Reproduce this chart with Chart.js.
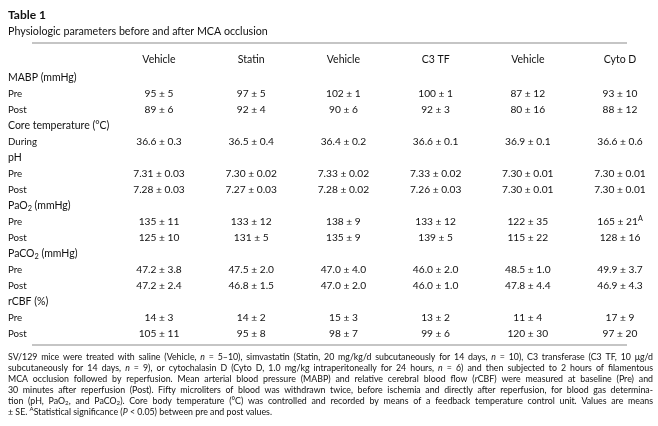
<!DOCTYPE html>
<html>
<head>
<meta charset="utf-8">
<script src="https://cdn.jsdelivr.net/npm/chart.js@4"></script>
<style>
  html, body { margin: 0; padding: 0; background: #fff; }
  #wrap { width: 658px; height: 426px; }
</style>
</head>
<body>
<div id="wrap"><canvas id="tableChart" width="658" height="426"></canvas></div>
<script>
// column headings and row labels (_ = subscript next char)
const columns = ["Vehicle", "Statin", "Vehicle", "C3 TF", "Vehicle", "Cyto D"];
const rowLabels = ["MABP (mmHg)", "Pre", "Post", "Core temperature (°C)", "During", "pH", "Pre", "Post",
  "PaO_2 (mmHg)", "Pre", "Post", "PaCO_2 (mmHg)", "Pre", "Post", "rCBF (%)", "Pre", "Post"];
const groupRows = [0, 3, 5, 8, 11, 14];

// means and SE per treatment column
const mabpPreMean = [95, 97, 102, 100, 87, 93];
const mabpPreSE = [5, 5, 1, 1, 12, 10];
const mabpPostMean = [89, 92, 90, 92, 80, 88];
const mabpPostSE = [6, 4, 6, 3, 16, 12];
const tempMean = [36.6, 36.5, 36.4, 36.6, 36.9, 36.6];
const tempSE = [0.3, 0.4, 0.2, 0.1, 0.1, 0.6];
const phPreMean = [7.31, 7.30, 7.33, 7.33, 7.30, 7.30];
const phPreSE = [0.03, 0.02, 0.02, 0.02, 0.01, 0.01];
const phPostMean = [7.28, 7.27, 7.28, 7.26, 7.30, 7.30];
const phPostSE = [0.03, 0.03, 0.02, 0.03, 0.01, 0.01];
const pao2PreMean = [135, 133, 138, 133, 122, 165];
const pao2PreSE = [11, 12, 9, 12, 35, 21];
const pao2PostMean = [125, 131, 135, 139, 115, 128];
const pao2PostSE = [10, 5, 9, 5, 22, 16];
const paco2PreMean = [47.2, 47.5, 47.0, 46.0, 48.5, 49.9];
const paco2PreSE = [3.8, 2.0, 4.0, 2.0, 1.0, 3.7];
const paco2PostMean = [47.2, 46.8, 47.0, 46.0, 47.8, 46.9];
const paco2PostSE = [2.4, 1.5, 2.0, 1.0, 4.4, 4.3];
const rcbfPreMean = [14, 14, 15, 13, 11, 17];
const rcbfPreSE = [3, 2, 3, 2, 4, 9];
const rcbfPostMean = [105, 95, 98, 99, 120, 97];
const rcbfPostSE = [11, 8, 7, 6, 30, 20];
const pao2PreSig = [false, false, false, false, false, true];

const footnote = [
  "SV/129 mice were treated with saline (Vehicle, *n* = 5–10), simvastatin (Statin, 20 mg/kg/d subcutaneously for 14 days, *n* = 10), C3 transferase (C3 TF, 10 μg/d",
  "subcutaneously for 14 days, *n* = 9), or cytochalasin D (Cyto D, 1.0 mg/kg intraperitoneally for 24 hours, *n* = 6) and then subjected to 2 hours of filamentous",
  "MCA occlusion followed by reperfusion. Mean arterial blood pressure (MABP) and relative cerebral blood flow (*r*CBF) were measured at baseline (Pre) and",
  "30 minutes after reperfusion (Post). Fifty microliters of blood was withdrawn twice, before ischemia and directly after reperfusion, for blood gas determina-",
  "tion (pH, PaO_2, and PaCO_2). Core body temperature (°C) was controlled and recorded by means of a feedback temperature control unit. Values are means",
  "± SE. ^AStatistical significance (*P* < 0.05) between pre and post values."
];

const tableRows = [
  { row: 1, mean: mabpPreMean, se: mabpPreSE, dp: 0 },
  { row: 2, mean: mabpPostMean, se: mabpPostSE, dp: 0 },
  { row: 4, mean: tempMean, se: tempSE, dp: 1 },
  { row: 6, mean: phPreMean, se: phPreSE, dp: 2 },
  { row: 7, mean: phPostMean, se: phPostSE, dp: 2 },
  { row: 9, mean: pao2PreMean, se: pao2PreSE, dp: 0, sig: pao2PreSig },
  { row: 10, mean: pao2PostMean, se: pao2PostSE, dp: 0 },
  { row: 12, mean: paco2PreMean, se: paco2PreSE, dp: 1 },
  { row: 13, mean: paco2PostMean, se: paco2PostSE, dp: 1 },
  { row: 15, mean: rcbfPreMean, se: rcbfPreSE, dp: 0 },
  { row: 16, mean: rcbfPostMean, se: rcbfPostSE, dp: 0 }
];

const FONT = "Lato, 'Open Sans', sans-serif";
const INK = "#111111";

// split "*x*" italics, "_x" subscript, "^x" superscript into runs
function parseRich(str) {
  const out = [];
  let italic = false, buf = "";
  const flush = () => { if (buf) out.push({ t: buf, italic, mode: 0 }); buf = ""; };
  for (let i = 0; i < str.length; i++) {
    const c = str[i];
    if (c === "*") { flush(); italic = !italic; }
    else if (c === "_" || c === "^") {
      flush();
      out.push({ t: str[i + 1], italic, mode: c === "_" ? 1 : -1 });
      i++;
    } else buf += c;
  }
  flush();
  return out;
}

function runFont(r, size, weight) {
  const s = r.mode ? size * 0.7 : size;
  return (r.italic ? "italic " : "") + (weight || "normal") + " " + s + "px " + FONT;
}

function richWidth(ctx, runs, size, weight) {
  let w = 0;
  runs.forEach(r => { ctx.font = runFont(r, size, weight); w += ctx.measureText(r.t).width; });
  return w;
}

function drawRich(ctx, str, x, y, size, opts) {
  opts = opts || {};
  const runs = parseRich(str);
  const natural = richWidth(ctx, runs, size, opts.weight);
  let extra = 0;
  if (opts.justify) {
    const spaces = runs.reduce((n, r) => n + (r.t.split(" ").length - 1), 0);
    if (spaces) extra = (opts.justify - natural) / spaces;
  }
  let cx = opts.align === "center" ? x - natural / 2 : x;
  ctx.textAlign = "left";
  ctx.textBaseline = "middle";
  runs.forEach(r => {
    ctx.font = runFont(r, size, opts.weight);
    const dy = r.mode === 1 ? size * 0.25 : r.mode === -1 ? -size * 0.3 : 0;
    const parts = r.t.split(" ");
    parts.forEach((p, k) => {
      if (k > 0) cx += ctx.measureText(" ").width + extra;
      ctx.fillText(p, cx, y + dy);
      cx += ctx.measureText(p).width;
    });
  });
}

const tablePlugin = {
  id: "tableText",
  afterDatasetsDraw(chart) {
    const ctx = chart.ctx;
    const xs = chart.scales.x, ys = chart.scales.y;
    ctx.save();
    ctx.fillStyle = INK;

    drawRich(ctx, "Table 1", 8, ys.top - 63, 12, { weight: "bold" });
    drawRich(ctx, "Physiologic parameters before and after MCA occlusion", 8, ys.top - 46, 10.7);

    ctx.strokeStyle = "#8c8c8c";
    ctx.lineWidth = 1.2;
    [ys.top - 35, ys.bottom + 11].forEach(y => {
      ctx.beginPath();
      ctx.moveTo(32, y);
      ctx.lineTo(627, y);
      ctx.stroke();
    });

    columns.forEach((c, i) => {
      drawRich(ctx, c, xs.getPixelForValue(i), ys.top - 18, 10.5, { align: "center" });
    });

    rowLabels.forEach((lab, r) => {
      const group = groupRows.includes(r);
      drawRich(ctx, lab, 8, ys.getPixelForValue(r), group ? 10.5 : 9.7);
    });

    chart.data.datasets.forEach((ds, d) => {
      const meta = chart.getDatasetMeta(d);
      meta.data.forEach((pt, i) => {
        let txt = ds.mean[i].toFixed(ds.dp) + " ± " + ds.se[i].toFixed(ds.dp);
        if (ds.sig && ds.sig[i]) txt += "^A";
        drawRich(ctx, txt, pt.x, pt.y, 10.2, { align: "center" });
      });
    });

    footnote.forEach((line, k) => {
      const last = k === footnote.length - 1;
      drawRich(ctx, line, 8, ys.bottom + 23 + k * 11, 8.8, { justify: last ? 0 : 645 });
    });
    ctx.restore();
  }
};

new Chart(document.getElementById("tableChart"), {
  type: "scatter",
  data: {
    datasets: tableRows.map(r => ({
      label: rowLabels[r.row],
      data: r.mean.map((m, i) => ({ x: i, y: r.row })),
      mean: r.mean,
      se: r.se,
      dp: r.dp,
      sig: r.sig,
      pointRadius: 0,
      showLine: false
    }))
  },
  options: {
    responsive: false,
    animation: false,
    events: [],
    layout: { padding: { left: 159, right: 38, top: 78, bottom: 92 } },
    scales: {
      x: { type: "linear", min: 0, max: columns.length - 1, display: false },
      y: { type: "linear", reverse: true, min: 0, max: rowLabels.length - 1, display: false }
    },
    plugins: { legend: { display: false }, tooltip: { enabled: false } }
  },
  plugins: [tablePlugin]
});
</script>
</body>
</html>
